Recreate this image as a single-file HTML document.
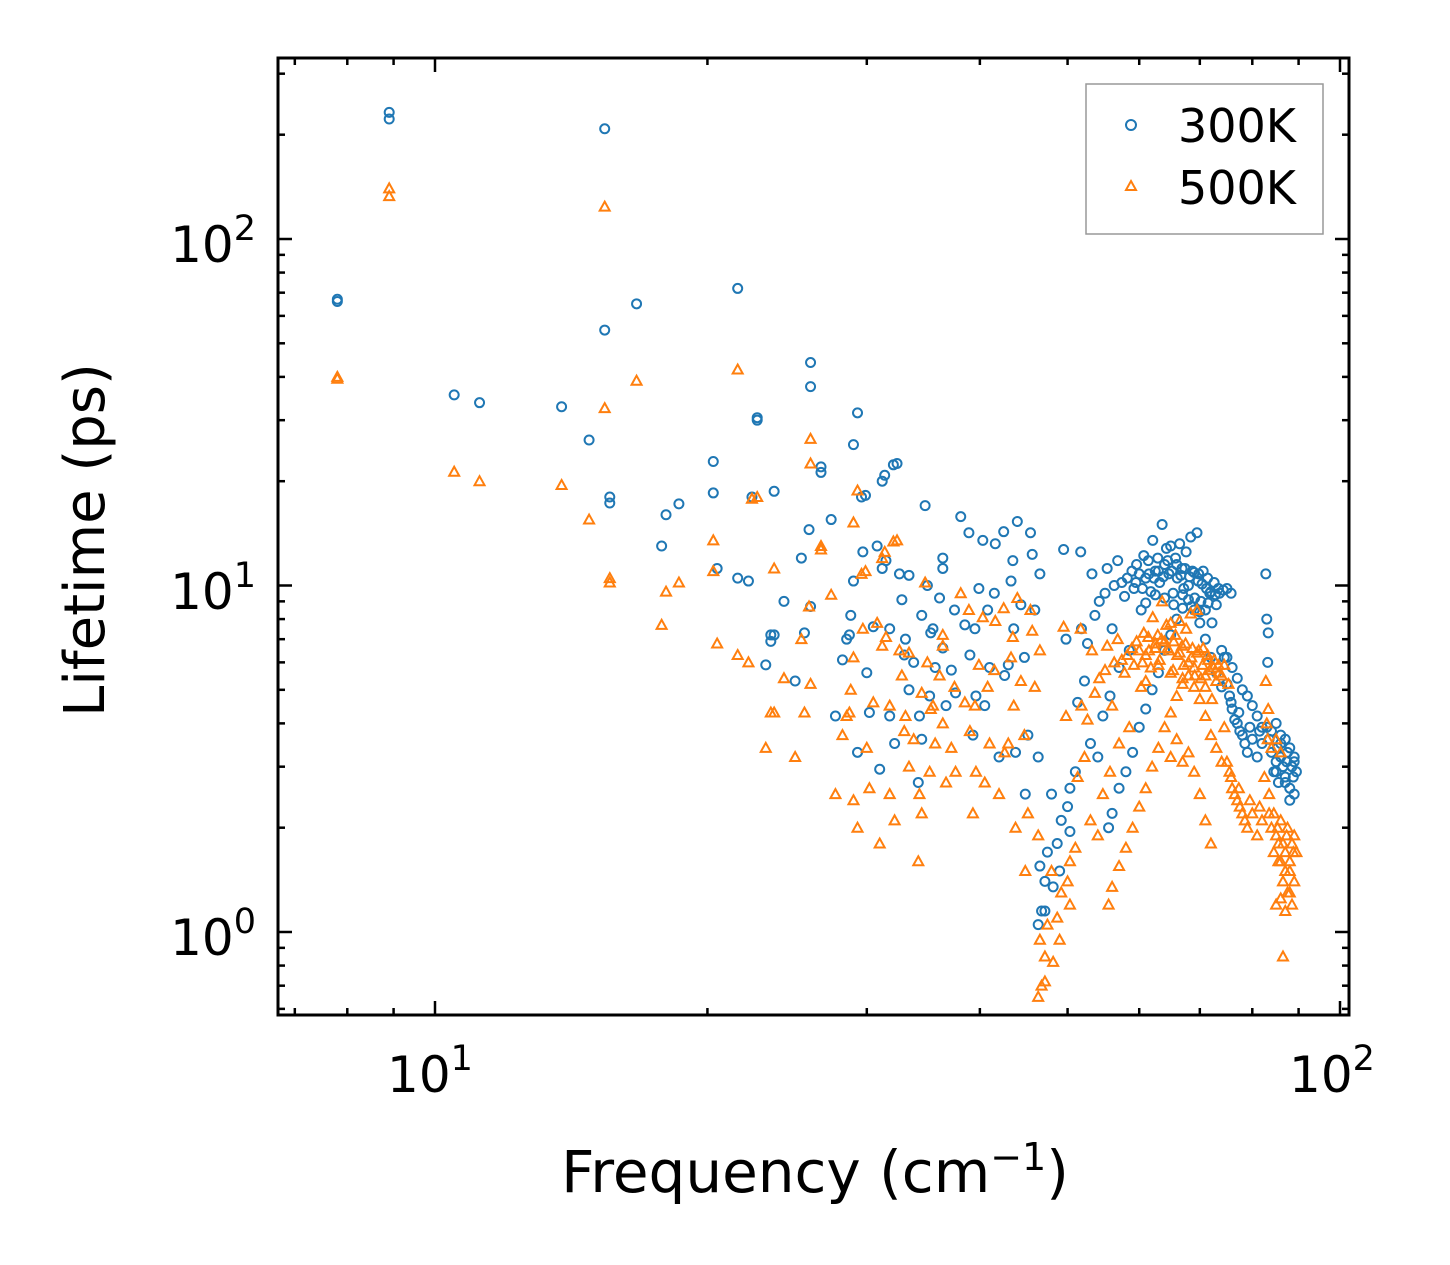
<!DOCTYPE html>
<html><head><meta charset="utf-8">
<style>
body{margin:0;background:#fff;}
svg{display:block;font-family:"DejaVu Sans","Liberation Sans",sans-serif;}
</style></head>
<body>
<svg id="chart" width="1450" height="1265" viewBox="0 0 1450 1265" xmlns="http://www.w3.org/2000/svg">
<rect width="1450" height="1265" fill="#fff"/>
<g id="ticks"></g>
<g id="pts"></g>
<rect x="278" y="58" width="1071" height="957" fill="none" stroke="#000" stroke-width="3"/>
<g font-size="50" text-anchor="middle">
<text x="430" y="1092">10<tspan dy="-22" font-size="35">1</tspan></text>
<text x="1332" y="1092">10<tspan dy="-22" font-size="35">2</tspan></text>
</g>
<g font-size="50" text-anchor="end">
<text x="256" y="262">10<tspan dy="-22" font-size="35">2</tspan></text>
<text x="256" y="609">10<tspan dy="-22" font-size="35">1</tspan></text>
<text x="256" y="955">10<tspan dy="-22" font-size="35">0</tspan></text>
</g>
<text x="815" y="1192" font-size="58" text-anchor="middle">Frequency (cm<tspan dy="-22" font-size="38">−1</tspan><tspan dy="22">)</tspan></text>
<text transform="translate(104,540) rotate(-90)" font-size="56" text-anchor="middle">Lifetime (ps)</text>
<g>
<rect x="1086" y="84" width="237" height="150" fill="#fff" stroke="#999" stroke-width="1.5"/>
<circle cx="1131" cy="125" r="5" fill="none" stroke="#1f77b4" stroke-width="2"/>
<text x="1178" y="142" font-size="46">300K</text>
<polygon points="1131,181 1136,190 1126,190" fill="none" stroke="#ff7f0e" stroke-width="2"/>
<text x="1178" y="204" font-size="46">500K</text>
</g>
</svg>
<script>
const s300 = [[7.8,67],[7.8,66],[8.9,232],[8.9,222],[10.5,35.5],[11.2,33.7],[13.8,32.8],[14.8,26.3],[15.4,208],[15.4,54.6],[15.6,18],[15.6,17.3],[16.7,65],[18,16],[18.6,17.2],[17.8,13],[20.3,18.5],[20.3,22.8],[20.5,11.2],[21.6,72],[21.6,10.5],[22.2,10.3],[22.4,18],[22.7,30.5],[22.7,30],[23.2,5.9],[23.5,7.2],[23.5,6.9],[23.7,7.2],[23.7,18.7],[24.3,9],[25,5.3],[25.4,12],[25.6,7.3],[25.9,14.5],[26,44],[26,37.5],[26,8.7],[26.7,22],[26.7,21.2],[27.4,15.5],[27.7,4.2],[28.2,6.1],[28.5,7],[28.7,7.2],[28.8,8.2],[29.0,10.3],[29.0,25.5],[29.3,31.5],[29.3,3.3],[29.6,18],[29.9,18.2],[29.7,12.5],[30,5.6],[30.2,4.3],[30.5,7.6],[30.8,13],[31,2.95],[31.2,20],[31.4,20.8],[31.2,11.2],[31.5,11.8],[31.8,4.2],[31.8,7.5],[32.1,22.3],[32.4,22.5],[32.2,3.5],[32.6,10.8],[32.8,9.1],[33,6.3],[33.1,7],[33.4,10.7],[33.4,5],[33.8,6],[34.2,2.7],[34.3,4.2],[34.5,3.6],[34.5,8.2],[34.8,17],[35,10],[35.2,4.8],[35.3,7.3],[35.5,7.5],[35.7,5.8],[36.1,9.2],[36.4,11.2],[36.4,6.6],[36.4,12],[36.7,4.5],[37.2,5.7],[37.5,8.5],[37.6,4.9],[38.1,15.8],[38.5,7.7],[38.9,14.2],[39,6.3],[39.3,3.7],[39.5,7.5],[39.6,4.8],[39.9,9.8],[40.3,13.5],[40.5,4.5],[40.8,8.5],[41,5.8],[41.5,9.5],[41.6,13.2],[42,3.2],[42.5,14.3],[42.6,5.5],[43,5.9],[43.3,10.3],[43.5,11.8],[43.6,7.5],[43.8,3.3],[44,15.3],[44.4,8.8],[44.8,6.2],[44.9,2.5],[45.2,3.7],[45.5,14.2],[45.7,12.3],[46,8.5],[46.4,3.2],[46.6,10.8],[46.4,1.05],[46.8,1.15],[46.6,1.55],[47.2,1.15],[47.2,1.4],[47.5,1.7],[48,2.5],[48.2,1.35],[48.7,1.8],[49,1.5],[49.2,2.1],[49.5,12.7],[49.8,7],[50,2.3],[50.3,2.6],[50.3,1.95],[51,2.9],[51.3,4.6],[51.8,7.5],[51.7,12.5],[52.2,5.3],[52.6,6.8],[53,3.5],[53.2,10.8],[53.6,8.2],[54,3.2],[54.2,9],[54.7,4.2],[55,9.5],[55.3,11.2],[55.7,4.8],[56,7.5],[56.3,10],[56.8,11.8],[57,5.8],[57.4,10.2],[57.8,9.3],[58.2,10.5],[58.5,6.5],[58.9,11],[59.2,9.8],[59.6,11.5],[60,10.8],[60.3,8.5],[60.7,12.2],[61,10.5],[61.4,11.8],[61.8,9.6],[62.1,13.5],[62.5,11],[62.9,12],[63.2,10.2],[63.6,15],[64,11.5],[64.3,12.8],[64.7,10.8],[65,13],[65.4,9.5],[65.8,12],[66.1,10.5],[66.5,13.2],[66.9,11.2],[67.2,9.8],[67.6,12.5],[68,10],[68.4,13.8],[68.7,11],[69.1,9.2],[69.5,14.2],[69.8,10.8],[70.2,9],[70.6,11],[71,8.5],[71.4,10.5],[71.8,9.5],[72.2,7.8],[72.6,10.2],[73,8.8],[73.4,9.8],[74,6.5],[74.5,6.2],[75,5.2],[75.5,4.8],[76,4.4],[76.5,4.1],[77,4],[77.5,3.8],[78,3.7],[78.5,3.5],[79,3.3],[80,3.6],[81,3.2],[82,3.5],[82.8,10.8],[83,8],[83.2,6],[83.3,7.3],[84,3.3],[84.5,2.9],[85,3.1],[85.5,2.7],[86,3.5],[86.5,3],[87,2.8],[87.5,3.3],[88,2.6],[88.5,3],[89,3.2],[89.5,2.9],[60,3.9],[59,3.3],[58,2.9],[57,2.6],[56,2.2],[55.5,2],[61,4.4],[62,5],[63,5.6],[64,6.5],[65,7.2],[66,8],[67,8.6],[68,9.1],[69,8.5],[70,7.8],[71,7],[72,6.2],[73,5.6],[74,5.1],[75.8,4.6],[77.3,4.3],[79.5,3.9],[81.5,3.8],[83.5,3.6],[85.3,3.4],[87.3,3.1],[88.8,2.8],[59.5,10.2],[60.5,9.8],[61.5,10.8],[62.3,10.5],[63,11],[63.8,10.6],[64.5,11.8],[65.2,11],[66,11.5],[66.7,10.7],[67.4,11.2],[68.2,10.6],[69,10.9],[69.7,10.3],[70.4,10.1],[71.2,9.8],[72,9.6],[72.8,9.4],[73.6,9.5],[74.3,9.7],[75,9.8],[75.8,9.5],[61,8.9],[62.5,9.4],[64,9.2],[65.5,8.8],[67,9.4],[68.5,8.7],[70,8.4],[71.5,8.9],[86,3.7],[87,3.6],[88,3.4],[89,3.1],[88,2.4],[89,2.5],[87,2.7],[86,3.2],[85,2.9],[84,3.8],[85,4],[83,3.9],[82,3.9],[81,4.2],[80,4.5],[79,4.8],[78,5],[77,5.4],[76,5.8],[75,6.2]];
const s500 = [[7.8,40],[7.8,39.5],[8.9,140],[8.9,133],[10.5,21.3],[11.2,20],[13.8,19.5],[14.8,15.5],[15.4,124],[15.4,32.5],[15.6,10.5],[15.6,10.2],[16.7,39],[17.8,7.7],[18,9.6],[18.6,10.2],[20.3,11],[20.3,13.5],[20.5,6.8],[21.6,42],[21.6,6.3],[22.2,6],[22.4,17.8],[22.7,18],[23.2,3.4],[23.5,4.3],[23.7,4.3],[23.7,11.2],[24.3,5.4],[25,3.2],[25.4,7],[25.6,4.3],[25.9,8.7],[26,26.5],[26,22.5],[26,5.2],[26.7,13],[26.7,12.7],[27.4,9.4],[27.7,2.5],[28.2,3.7],[28.5,4.2],[28.7,4.3],[28.8,5],[29,2.4],[29.0,6.2],[29.0,15.2],[29.3,18.8],[29.3,2],[29.6,10.8],[29.9,11],[29.7,7.5],[30,3.4],[30.2,2.6],[30.5,4.6],[30.8,7.8],[31,1.8],[31.2,12],[31.4,12.5],[31.2,6.7],[31.5,7.1],[31.8,2.5],[31.8,4.5],[32.1,13.4],[32.4,13.5],[32.2,2.1],[32.6,6.5],[32.8,5.5],[33,3.8],[33.1,4.2],[33.4,6.4],[33.4,3],[33.8,3.6],[34.2,1.6],[34.3,2.5],[34.5,2.2],[34.5,4.9],[34.8,10.2],[35,6],[35.2,2.9],[35.3,4.4],[35.5,4.5],[35.7,3.5],[36.1,5.5],[36.4,6.7],[36.4,4],[36.4,7.2],[36.7,2.7],[37.2,3.4],[37.5,5.1],[37.6,2.9],[38.1,9.5],[38.5,4.6],[38.9,8.5],[39,3.8],[39.3,2.2],[39.5,4.5],[39.6,2.9],[39.9,5.9],[40.3,8.1],[40.5,2.7],[40.8,5.1],[41,3.5],[41.5,5.7],[41.6,7.9],[42,2.5],[42.5,8.6],[42.6,3.3],[43,3.5],[43.3,6.2],[43.5,7.1],[43.6,4.5],[43.8,2],[44,9.2],[44.4,5.3],[44.8,3.7],[44.9,1.5],[45.2,2.2],[45.5,8.5],[45.7,7.4],[46,5.1],[46.4,1.9],[46.6,6.5],[46.4,0.65],[46.8,0.7],[46.6,0.95],[47.2,0.72],[47.2,0.85],[47.5,1.05],[48,1.5],[48.2,0.82],[48.7,1.1],[49,0.95],[49.2,1.3],[49.5,7.6],[49.8,4.2],[50,1.4],[50.3,1.6],[50.3,1.2],[51,1.75],[51.3,2.8],[51.8,4.5],[51.7,7.5],[52.2,3.2],[52.6,4.1],[53,2.1],[53.2,6.5],[53.6,4.9],[54,1.9],[54.2,5.4],[54.7,2.5],[55,5.7],[55.3,6.7],[55.7,2.9],[56,4.5],[56.3,6],[56.8,7],[57,3.5],[57.4,6.1],[57.8,5.6],[58.2,6.3],[58.5,3.9],[58.9,6.6],[59.2,5.9],[59.6,6.9],[60,6.5],[60.3,5.1],[60.7,7.3],[61,6.3],[61.4,7.1],[61.8,5.8],[62.1,8.1],[62.5,6.6],[62.9,7.2],[63.2,6.1],[63.6,9],[64,6.9],[64.3,7.7],[64.7,6.5],[65,7.8],[65.4,5.7],[65.8,7.2],[66.1,6.3],[66.5,7.9],[66.9,6.7],[67.2,5.9],[67.6,7.5],[68,6],[68.4,8.3],[68.7,6.6],[69.1,5.5],[69.5,8.5],[69.8,6.5],[70.2,5.4],[70.6,6.6],[71,5.1],[71.4,6.3],[71.8,5.7],[72.2,4.7],[72.6,6.1],[73,5.3],[73.4,5.9],[74,5.5],[74.5,3.9],[75,3.1],[75.5,2.9],[76,2.6],[76.5,2.5],[77,2.4],[77.5,2.3],[78,2.2],[78.5,2.1],[79,2],[80,2.2],[81,1.9],[82,2.1],[82.8,5.3],[83,4],[83.2,3.6],[83.3,4.4],[84,2],[84.5,1.7],[85,1.9],[85.5,1.6],[86,2.1],[86.5,1.8],[87,1.7],[87.5,2],[88,1.5],[88.5,1.8],[89,1.9],[89.5,1.7],[85,1.2],[86,1.25],[87,1.15],[88,1.3],[86.5,0.85],[60,2.3],[59,2],[58,1.75],[57,1.55],[56,1.35],[55.5,1.2],[61,2.6],[62,3],[63,3.4],[64,3.9],[65,4.3],[66,4.8],[67,5.2],[68,5.5],[69,5.1],[70,4.7],[71,4.2],[72,3.7],[73,3.4],[74,3.1],[75.8,2.8],[77.3,2.6],[79.5,2.4],[81.5,2.3],[83.5,2.2],[85.3,2],[87.3,1.9],[88.8,1.7],[66,3.6],[68,3.3],[69,2.9],[70,2.5],[71,2.1],[72,1.8],[65,3.2],[67,3.1],[60.5,6],[61.5,6.5],[62.5,6.8],[63.5,7],[64.5,6.6],[65.5,6.9],[66.5,6.4],[67.5,6.8],[68.5,6.2],[69.5,6.4],[70.5,5.9],[71.5,6.1],[72.5,5.8],[73.5,5.6],[74.5,5.9],[75.3,5.2],[61,5.3],[63,5.9],[65,5.6],[67,5.4],[69,5.8],[71,5.5],[86,1.6],[87,1.5],[88,1.6],[89,1.4],[87.5,1.3],[88.5,1.2],[86.5,1.4],[85.5,1.8],[84.5,2.2],[83.5,2.5],[82.5,2.8],[84,3.4],[85,3.6],[86,3.3]];
const xMajorTicks = [10, 100];
const yMajorTicks = [1, 10, 100];

const X0 = 278, X1 = 1349, Y0 = 58, Y1 = 1015;
function xs(v){ return 435 + 905 * (Math.log10(v) - 1); }
function ys(v){ return 932 - 346.5 * Math.log10(v); }
const NS = 'http://www.w3.org/2000/svg';
const tg = document.getElementById('ticks');
function line(x1,y1,x2,y2,name){
  const l = document.createElementNS(NS,'line');
  l.setAttribute('x1',x1); l.setAttribute('y1',y1); l.setAttribute('x2',x2); l.setAttribute('y2',y2);
  l.setAttribute('stroke','#000'); l.setAttribute('stroke-width','2.5');
  
  
  tg.appendChild(l);
}
for (let d = 0; d <= 2; d++) {
  for (let k = 1; k <= 9; k++) {
    const vv = k * Math.pow(10, d);
    const x = xs(vv);
    if (x < X0 || x > X1) continue;
    const major = xMajorTicks.includes(vv);
    const L = major ? 14 : 7;
    line(x, Y1, x, Y1 - L, 'x-tick');
    line(x, Y0, x, Y0 + L, 'x-tick-top');
  }
}
for (let d = -1; d <= 2; d++) {
  for (let k = 1; k <= 9; k++) {
    const vv = k * Math.pow(10, d);
    const y = ys(vv);
    if (y < Y0 || y > Y1) continue;
    const major = yMajorTicks.some(m => Math.abs(m - vv) < 1e-9);
    const L = major ? 14 : 7;
    line(X0, y, X0 + L, y, 'y-tick');
    line(X1, y, X1 - L, y, 'y-tick-right');
  }
}
const pg = document.getElementById('pts');
s300.forEach(p => {
  const c = document.createElementNS(NS,'circle');
  c.setAttribute('cx', xs(p[0])); c.setAttribute('cy', ys(p[1])); c.setAttribute('r', 4.5);
  c.setAttribute('fill','none'); c.setAttribute('stroke','#1f77b4'); c.setAttribute('stroke-width','2');
  
  
  pg.appendChild(c);
});
s500.forEach(p => {
  const x = xs(p[0]), y = ys(p[1]);
  const t = document.createElementNS(NS,'polygon');
  t.setAttribute('points', `${x},${y-5} ${x+5},${y+4} ${x-5},${y+4}`);
  t.setAttribute('fill','none'); t.setAttribute('stroke','#ff7f0e'); t.setAttribute('stroke-width','2');
  
  
  pg.appendChild(t);
});
</script>
</body></html>
